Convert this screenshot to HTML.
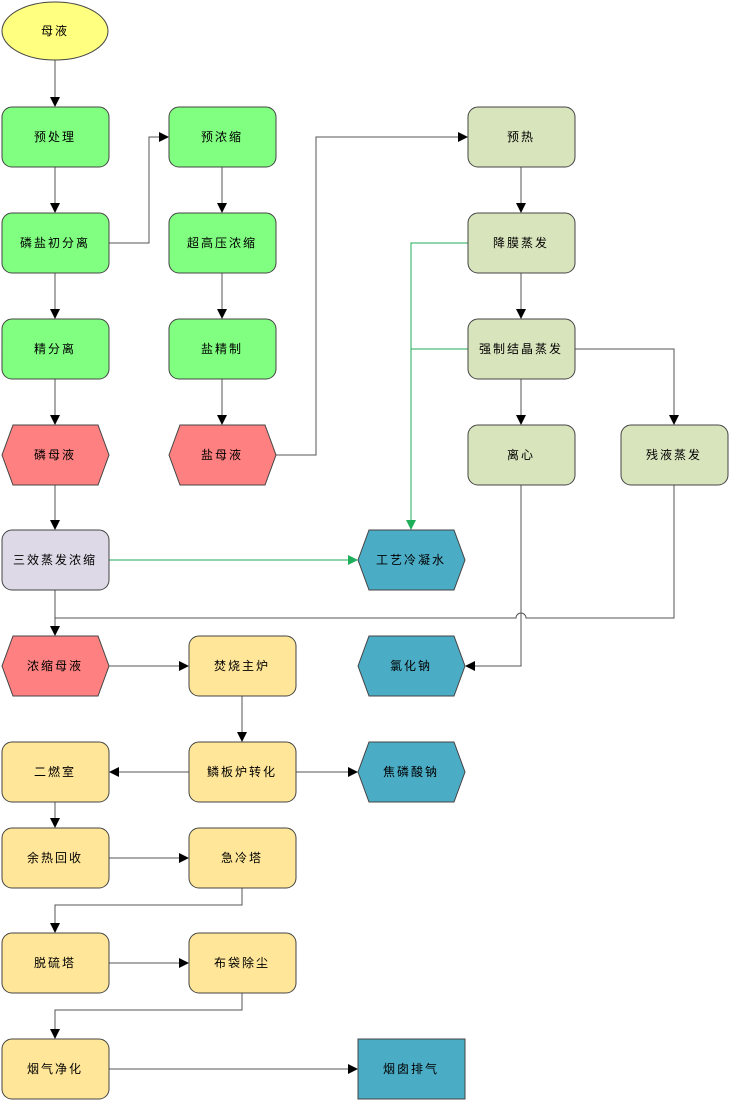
<!DOCTYPE html>
<html><head><meta charset="utf-8"><style>
html,body{margin:0;padding:0;background:#fff}
svg{display:block}
text{font-family:"Liberation Sans","Noto Sans CJK SC",sans-serif;font-size:12px;text-anchor:middle;dominant-baseline:central;fill:#000;letter-spacing:2px}
.n{stroke:#444;stroke-width:1}
.l{stroke:#555;stroke-width:1;fill:none}
.g{stroke:#1fae5a;stroke-width:1;fill:none}
</style></head><body>
<svg width="731" height="1102" viewBox="0 0 731 1102">
<defs>
<marker id="a" markerWidth="10" markerHeight="10" refX="9" refY="5" orient="auto" markerUnits="userSpaceOnUse"><path d="M0,0 L10,5 L0,10 z" fill="#000"/></marker>
<marker id="ag" markerWidth="10" markerHeight="10" refX="9" refY="5" orient="auto" markerUnits="userSpaceOnUse"><path d="M0,0 L10,5 L0,10 z" fill="#1fae5a"/></marker>
</defs>
<path class="l" d="M55,60 V106" marker-end="url(#a)"/>
<path class="l" d="M55,167 V212" marker-end="url(#a)"/>
<path class="l" d="M55,273 V318" marker-end="url(#a)"/>
<path class="l" d="M55,379 V424" marker-end="url(#a)"/>
<path class="l" d="M55,485 V529" marker-end="url(#a)"/>
<path class="l" d="M55,590 V635" marker-end="url(#a)"/>
<path class="l" d="M109,243 H149 V137 H168" marker-end="url(#a)"/>
<path class="l" d="M222,167 V212" marker-end="url(#a)"/>
<path class="l" d="M222,273 V318" marker-end="url(#a)"/>
<path class="l" d="M222,379 V424" marker-end="url(#a)"/>
<path class="l" d="M276,455 H316 V137 H467" marker-end="url(#a)"/>
<path class="l" d="M521,167 V212" marker-end="url(#a)"/>
<path class="l" d="M521,273 V318" marker-end="url(#a)"/>
<path class="l" d="M521,379 V424" marker-end="url(#a)"/>
<path class="l" d="M575,349 H674 V424" marker-end="url(#a)"/>
<path class="g" d="M468,243 H411 V529" marker-end="url(#ag)"/>
<path class="g" d="M468,349 H411"/>
<path class="g" d="M109,560 H357" marker-end="url(#ag)"/>
<path class="l" d="M521,485 V666 H466" marker-end="url(#a)"/>
<path class="l" d="M674,485 V618 H526 A5,5 0 0 0 516,618 H55"/>
<path class="l" d="M109,666 H188" marker-end="url(#a)"/>
<path class="l" d="M242,696 V741" marker-end="url(#a)"/>
<path class="l" d="M189,772 H110" marker-end="url(#a)"/>
<path class="l" d="M296,772 H357" marker-end="url(#a)"/>
<path class="l" d="M55,802 V827" marker-end="url(#a)"/>
<path class="l" d="M109,858 H188" marker-end="url(#a)"/>
<path class="l" d="M242,888 V905 H55 V932" marker-end="url(#a)"/>
<path class="l" d="M109,963 H188" marker-end="url(#a)"/>
<path class="l" d="M242,993 V1010 H55 V1038" marker-end="url(#a)"/>
<path class="l" d="M109,1069 H357" marker-end="url(#a)"/>
<ellipse class="n" cx="55" cy="31" rx="53" ry="29" fill="#ffff80"/><text x="55" y="31">母液</text>
<g fill="#80ff80">
<rect class="n" x="2" y="107" width="107" height="60" rx="10"/>
<rect class="n" x="2" y="213" width="107" height="60" rx="10"/>
<rect class="n" x="2" y="319" width="107" height="60" rx="10"/>
<rect class="n" x="169" y="107" width="107" height="60" rx="10"/>
<rect class="n" x="169" y="213" width="107" height="60" rx="10"/>
<rect class="n" x="169" y="319" width="107" height="60" rx="10"/>
</g>
<text x="55" y="137">预处理</text><text x="55" y="243">磷盐初分离</text><text x="55" y="349">精分离</text>
<text x="222" y="137">预浓缩</text><text x="222" y="243">超高压浓缩</text><text x="222" y="349">盐精制</text>
<g fill="#d8e4bc">
<rect class="n" x="468" y="107" width="107" height="60" rx="10"/>
<rect class="n" x="468" y="213" width="107" height="60" rx="10"/>
<rect class="n" x="468" y="319" width="107" height="60" rx="10"/>
<rect class="n" x="468" y="425" width="107" height="60" rx="10"/>
<rect class="n" x="621" y="425" width="107" height="60" rx="10"/>
</g>
<text x="521" y="137">预热</text><text x="521" y="243">降膜蒸发</text><text x="521" y="349">强制结晶蒸发</text><text x="521" y="455">离心</text><text x="674" y="455">残液蒸发</text>
<g fill="#ff8080">
<polygon class="n" points="2,455 13,425 98,425 109,455 98,485 13,485"/>
<polygon class="n" points="169,455 180,425 265,425 276,455 265,485 180,485"/>
<polygon class="n" points="2,666 13,636 98,636 109,666 98,696 13,696"/>
</g>
<text x="55" y="455">磷母液</text><text x="222" y="455">盐母液</text><text x="55" y="666">浓缩母液</text>
<rect class="n" x="2" y="530" width="107" height="60" rx="10" fill="#ddd9e6"/><text x="55" y="560">三效蒸发浓缩</text>
<g fill="#4bacc6">
<polygon class="n" points="358,560 369,530 454,530 465,560 454,590 369,590"/>
<polygon class="n" points="358,666 369,636 454,636 465,666 454,696 369,696"/>
<polygon class="n" points="358,772 369,742 454,742 465,772 454,802 369,802"/>
<rect class="n" x="358" y="1039" width="107" height="60"/>
</g>
<text x="411" y="560">工艺冷凝水</text><text x="411" y="666">氯化钠</text><text x="411" y="772">焦磷酸钠</text><text x="411" y="1069">烟囱排气</text>
<g fill="#ffe699">
<rect class="n" x="189" y="636" width="107" height="60" rx="10"/>
<rect class="n" x="189" y="742" width="107" height="60" rx="10"/>
<rect class="n" x="2" y="742" width="107" height="60" rx="10"/>
<rect class="n" x="2" y="828" width="107" height="60" rx="10"/>
<rect class="n" x="189" y="828" width="107" height="60" rx="10"/>
<rect class="n" x="2" y="933" width="107" height="60" rx="10"/>
<rect class="n" x="189" y="933" width="107" height="60" rx="10"/>
<rect class="n" x="2" y="1039" width="107" height="60" rx="10"/>
</g>
<text x="242" y="666">焚烧主炉</text><text x="242" y="772">鳞板炉转化</text><text x="55" y="772">二燃室</text>
<text x="55" y="858">余热回收</text><text x="242" y="858">急冷塔</text>
<text x="55" y="963">脱硫塔</text><text x="242" y="963">布袋除尘</text><text x="55" y="1069">烟气净化</text>
</svg>
</body></html>
